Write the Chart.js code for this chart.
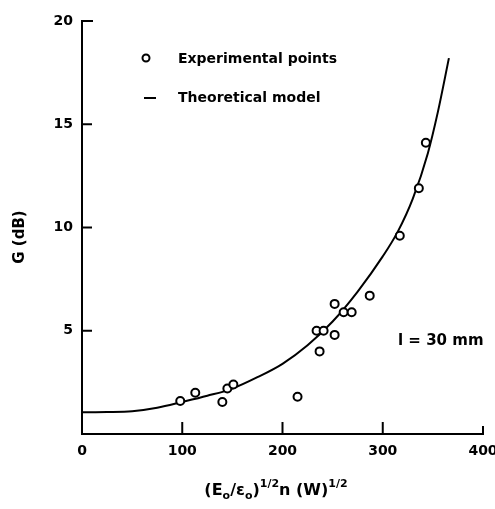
<!DOCTYPE html>
<html>
<head>
<meta charset="utf-8">
<script src="https://cdn.jsdelivr.net/npm/chart.js@4.4.1/dist/chart.umd.min.js"></script>
<style>
  html, body { margin: 0; padding: 0; background: #fff; }
  #wrap { width: 495px; height: 509px; }
</style>
</head>
<body>
<div id="wrap"><canvas id="gainChart"></canvas></div>
<script>
// Measured gain vs. (E0/eps0)^1/2 n (W)^1/2
const expX = [98, 113, 140, 145, 151, 215, 234, 237, 241, 252, 252, 261, 269, 287, 317, 336, 343];
const expY = [1.6, 2.0, 1.55, 2.2, 2.4, 1.8, 5.0, 4.0, 5.0, 4.8, 6.3, 5.9, 5.9, 6.7, 9.6, 11.9, 14.1];

// Theoretical curve
const modelX = [0, 25, 50, 75, 100, 125, 150, 175, 200, 225, 250, 275, 300, 315, 330, 345, 355, 366];
const modelY = [1.05, 1.06, 1.1, 1.27, 1.55, 1.85, 2.2, 2.75, 3.4, 4.3, 5.45, 6.9, 8.6, 9.8, 11.4, 13.6, 15.6, 18.2];

const xTicks = [0, 100, 200, 300, 400];
const yTicks = [5, 10, 15, 20];

const FONT = "'DejaVu Sans', sans-serif";

Chart.defaults.font.family = FONT;
Chart.defaults.color = "#000";

// ticks drawn inward, custom legend, axis titles with sub/superscripts
const decorations = {
  id: "decorations",
  afterDraw(chart) {
    const ctx = chart.ctx;
    const xs = chart.scales.x;
    const ys = chart.scales.y;
    const area = chart.chartArea;
    ctx.save();
    ctx.strokeStyle = "#000";
    ctx.lineWidth = 2;

    // inward ticks
    yTicks.forEach(function (v) {
      const py = ys.getPixelForValue(v);
      ctx.beginPath();
      ctx.moveTo(area.left, py);
      ctx.lineTo(area.left + (v === 20 ? 11 : 10), py);
      ctx.stroke();
    });
    xTicks.slice(1).forEach(function (v) {
      const px = xs.getPixelForValue(v);
      ctx.beginPath();
      ctx.moveTo(px, area.bottom);
      ctx.lineTo(px, area.bottom - (v === 400 ? 8 : 12));
      ctx.stroke();
    });

    // legend
    ctx.font = "bold 14px " + FONT;
    ctx.textBaseline = "middle";
    ctx.textAlign = "left";
    ctx.beginPath();
    ctx.arc(146, 58, 3.5, 0, Math.PI * 2);
    ctx.fillStyle = "#fff";
    ctx.fill();
    ctx.stroke();
    ctx.fillStyle = "#000";
    ctx.fillText(chart.data.datasets[0].label, 178, 59);
    ctx.beginPath();
    ctx.moveTo(144, 98);
    ctx.lineTo(156, 98);
    ctx.stroke();
    ctx.fillText(chart.data.datasets[1].label, 178, 98);

    // length note
    ctx.font = "bold 15px " + FONT;
    ctx.fillText("l = 30 mm", 398, 341);

    // y-axis title
    ctx.save();
    ctx.translate(20, 237);
    ctx.rotate(-Math.PI / 2);
    ctx.textAlign = "center";
    ctx.font = "bold 15px " + FONT;
    ctx.fillText("G (dB)", 0, 0);
    ctx.restore();

    // x-axis title
    const parts = [
      ["(E", 16, 0], ["o", 11, 5], ["/\u03b5", 16, 0], ["o", 11, 5], [")", 16, 0],
      ["1/2", 11, -7], ["n (W)", 16, 0], ["1/2", 11, -7]
    ];
    let total = 0;
    parts.forEach(function (p) {
      ctx.font = "bold " + p[1] + "px " + FONT;
      total += ctx.measureText(p[0]).width;
    });
    let cx = 276 - total / 2;
    const baseY = 491;
    parts.forEach(function (p) {
      ctx.font = "bold " + p[1] + "px " + FONT;
      ctx.fillText(p[0], cx, baseY + p[2]);
      cx += ctx.measureText(p[0]).width;
    });
    ctx.restore();
  },
};

const ctx = document.getElementById("gainChart").getContext("2d");
new Chart(ctx, {
  type: "scatter",
  data: {
    datasets: [
      {
        label: "Experimental points",
        data: expX.map(function (x, i) { return { x: x, y: expY[i] }; }),
        pointStyle: "circle",
        pointRadius: 4,
        pointBorderWidth: 2,
        pointBorderColor: "#000",
        pointBackgroundColor: "#fff",
        showLine: false,
        order: 0,
      },
      {
        label: "Theoretical model",
        data: modelX.map(function (x, i) { return { x: x, y: modelY[i] }; }),
        showLine: true,
        borderColor: "#000",
        borderWidth: 2,
        pointRadius: 0,
        cubicInterpolationMode: "monotone",
        order: 1,
      },
    ],
  },
  options: {
    responsive: true,
    maintainAspectRatio: false,
    animation: false,
    layout: {
      padding: { top: 21, right: 12, left: 0, bottom: 0 },
    },
    plugins: {
      legend: { display: false },
      tooltip: { enabled: false },
    },
    scales: {
      x: {
        type: "linear",
        min: 0,
        max: 400,
        afterBuildTicks: function (scale) {
          scale.ticks = xTicks.map(function (v) { return { value: v }; });
        },
        afterFit: function (scale) {
          scale.height = 75;
          // let the last label run to the edge instead of shrinking the plot
          scale.paddingLeft = 0;
          scale.paddingRight = 0;
        },
        ticks: {
          padding: 9,
          font: { size: 14, weight: "bold" },
          maxRotation: 0,
        },
        grid: { drawOnChartArea: false, drawTicks: false },
        border: { display: true, color: "#000", width: 2 },
      },
      y: {
        type: "linear",
        min: 0,
        max: 20,
        afterBuildTicks: function (scale) {
          scale.ticks = yTicks.map(function (v) { return { value: v }; });
        },
        afterFit: function (scale) { scale.width = 82; },
        ticks: {
          padding: 9,
          font: { size: 14, weight: "bold" },
        },
        grid: { drawOnChartArea: false, drawTicks: false },
        border: { display: true, color: "#000", width: 2 },
      },
    },
  },
  plugins: [decorations],
});
</script>
</body>
</html>
